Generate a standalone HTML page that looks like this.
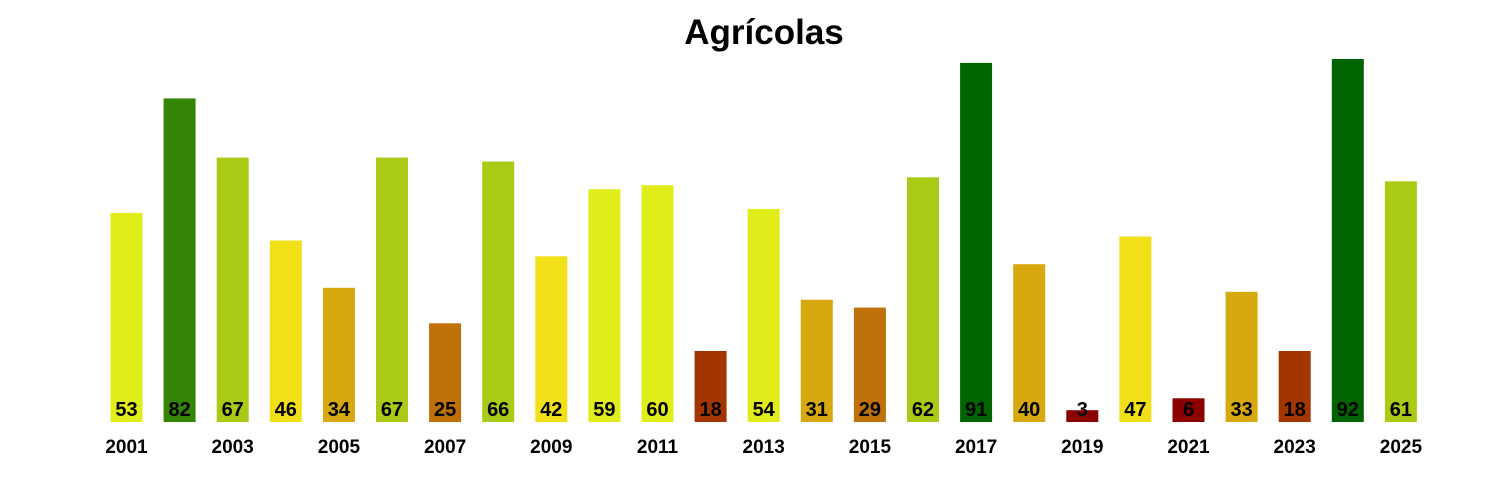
<!DOCTYPE html>
<html><head><meta charset="utf-8"><style>body{margin:0;background:#fff}svg{display:block}text{font-family:"Liberation Sans",Arial,sans-serif;font-weight:bold;text-anchor:middle}</style></head>
<body>
<svg width="1500" height="500" viewBox="0 0 1500 500">
<text x="764" y="44" font-size="35">Agrícolas</text>
<g>
<rect x="110.5" y="212.9" width="32" height="209.1" fill="#e1ec1b"/>
<rect x="163.6" y="98.4" width="32" height="323.6" fill="#348506"/>
<rect x="216.7" y="157.6" width="32" height="264.4" fill="#a9cb16"/>
<rect x="269.8" y="240.5" width="32" height="181.5" fill="#f1df17"/>
<rect x="322.9" y="287.8" width="32" height="134.2" fill="#d7a90f"/>
<rect x="376.0" y="157.6" width="32" height="264.4" fill="#a9cb16"/>
<rect x="429.1" y="323.3" width="32" height="98.7" fill="#c07008"/>
<rect x="482.2" y="161.6" width="32" height="260.4" fill="#a9cb16"/>
<rect x="535.3" y="256.3" width="32" height="165.7" fill="#f1df17"/>
<rect x="588.4" y="189.2" width="32" height="232.8" fill="#e1ec1b"/>
<rect x="641.5" y="185.2" width="32" height="236.8" fill="#e1ec1b"/>
<rect x="694.6" y="351.0" width="32" height="71.0" fill="#a33500"/>
<rect x="747.7" y="208.9" width="32" height="213.1" fill="#e1ec1b"/>
<rect x="800.8" y="299.7" width="32" height="122.3" fill="#d7a90f"/>
<rect x="853.9" y="307.6" width="32" height="114.4" fill="#c07008"/>
<rect x="907.0" y="177.3" width="32" height="244.7" fill="#a9cb16"/>
<rect x="960.1" y="62.9" width="32" height="359.1" fill="#006400"/>
<rect x="1013.2" y="264.2" width="32" height="157.8" fill="#d7a90f"/>
<rect x="1066.3" y="410.2" width="32" height="11.8" fill="#8b0000"/>
<rect x="1119.4" y="236.5" width="32" height="185.5" fill="#f1df17"/>
<rect x="1172.5" y="398.3" width="32" height="23.7" fill="#8b0000"/>
<rect x="1225.6" y="291.8" width="32" height="130.2" fill="#d7a90f"/>
<rect x="1278.7" y="351.0" width="32" height="71.0" fill="#a33500"/>
<rect x="1331.8" y="59.0" width="32" height="363.0" fill="#006400"/>
<rect x="1384.9" y="181.3" width="32" height="240.7" fill="#a9cb16"/>
</g>
<g font-size="20">
<text x="126.5" y="416">53</text><text x="179.6" y="416">82</text><text x="232.7" y="416">67</text><text x="285.8" y="416">46</text><text x="338.9" y="416">34</text><text x="392.0" y="416">67</text><text x="445.1" y="416">25</text><text x="498.2" y="416">66</text><text x="551.3" y="416">42</text><text x="604.4" y="416">59</text><text x="657.5" y="416">60</text><text x="710.6" y="416">18</text><text x="763.7" y="416">54</text><text x="816.8" y="416">31</text><text x="869.9" y="416">29</text><text x="923.0" y="416">62</text><text x="976.1" y="416">91</text><text x="1029.2" y="416">40</text><text x="1082.3" y="416">3</text><text x="1135.4" y="416">47</text><text x="1188.5" y="416">6</text><text x="1241.6" y="416">33</text><text x="1294.7" y="416">18</text><text x="1347.8" y="416">92</text><text x="1400.9" y="416">61</text>
</g>
<g font-size="19">
<text x="126.5" y="453">2001</text><text x="232.7" y="453">2003</text><text x="338.9" y="453">2005</text><text x="445.1" y="453">2007</text><text x="551.3" y="453">2009</text><text x="657.5" y="453">2011</text><text x="763.7" y="453">2013</text><text x="869.9" y="453">2015</text><text x="976.1" y="453">2017</text><text x="1082.3" y="453">2019</text><text x="1188.5" y="453">2021</text><text x="1294.7" y="453">2023</text><text x="1400.9" y="453">2025</text>
</g>
</svg>
</body></html>
